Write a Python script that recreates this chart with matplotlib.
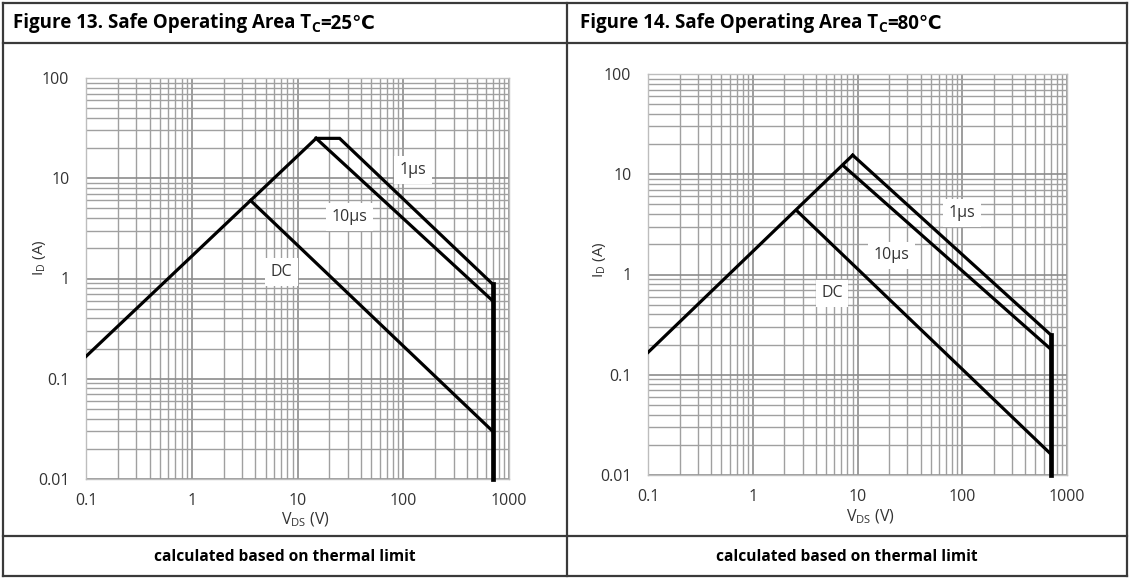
import matplotlib
matplotlib.use('Agg')
import matplotlib.pyplot as plt
from matplotlib.lines import Line2D
from matplotlib.text import Annotation
from matplotlib.ticker import FixedLocator, LogLocator, NullFormatter

plt.rcParams['font.family'] = ['Open Sans', 'DejaVu Sans']
plt.rcParams['mathtext.fontset'] = 'custom'
plt.rcParams['mathtext.rm'] = 'Open Sans'

W, H = 1129, 578

x_ticks = [0.1, 1, 10, 100, 1000]
x_tick_labels = ['0.1', '1', '10', '100', '1000']
y_ticks = [0.01, 0.1, 1, 10, 100]
y_tick_labels = ['0.01', '0.1', '1', '10', '100']

# Tc = 25 C
t25_rds_v = [0.1, 15]
t25_rds_i = [0.167, 25]
t25_1us_v = [15, 25, 700]
t25_1us_i = [25, 25, 0.88]
t25_10us_v = [15, 700]
t25_10us_i = [25, 0.6]
t25_dc_v = [3.6, 700]
t25_dc_i = [6.0, 0.03]
t25_vmax_v = [700, 700]
t25_vmax_i = [0.88, 0.01]

# Tc = 80 C
t80_rds_v = [0.1, 9]
t80_rds_i = [0.167, 15.5]
t80_1us_v = [9, 700]
t80_1us_i = [15.5, 0.25]
t80_10us_v = [7.3, 700]
t80_10us_i = [12.2, 0.18]
t80_dc_v = [2.65, 700]
t80_dc_i = [4.3, 0.0162]
t80_vmax_v = [700, 700]
t80_vmax_i = [0.25, 0.01]

curve_names = ['1µs', '10µs', 'DC']
t25_label_v = [124, 31, 7.1]
t25_label_i = [12.1, 4.1, 1.16]
t80_label_v = [100, 21, 5.7]
t80_label_i = [4.1, 1.56, 0.65]


def px(x, y):
    return x / W, 1 - y / H


fig = plt.figure(figsize=(W / 100, H / 100), dpi=100)

# table frame
frame_kw = dict(color='#3a3a3a', lw=1.6)
for (x0, y0), (x1, y1) in [((3, 3), (1127, 3)), ((3, 576), (1127, 576)),
                           ((3, 3), (3, 576)), ((1127, 3), (1127, 576)),
                           ((567, 3), (567, 576)), ((3, 43), (1127, 43)),
                           ((3, 536), (1127, 536))]:
    a, b = px(x0, y0)
    c, d = px(x1, y1)
    fig.add_artist(Line2D([a, c], [b, d], transform=fig.transFigure, **frame_kw))


def title(x, num, temp):
    t1 = fig.text(*px(x, 23), f'Figure {num}. Safe Operating Area T',
                  fontsize=13.5, fontweight='bold', va='center', ha='left')
    t2 = Annotation('C', xy=(1.0, -0.1), xycoords=t1, fontsize=10,
                    fontweight='bold', va='bottom', ha='left')
    fig.add_artist(t2)
    t3 = Annotation(f'={temp}℃', xy=(1.0, 0.1), xycoords=t2, fontsize=13.5,
                    fontweight='bold', va='bottom', ha='left')
    fig.add_artist(t3)


def panel(rect, data, labels, ylab_pos, xlab_pos):
    l, r, t, b = rect
    ax = fig.add_axes([l / W, 1 - b / H, (r - l) / W, (b - t) / H])
    ax.set_xscale('log')
    ax.set_yscale('log')
    ax.set_xlim(0.1, 1000)
    ax.set_ylim(0.01, 100)
    ax.xaxis.set_major_locator(FixedLocator(x_ticks))
    ax.set_xticklabels(x_tick_labels)
    ax.yaxis.set_major_locator(FixedLocator(y_ticks))
    ax.set_yticklabels(y_tick_labels)
    ax.xaxis.set_minor_locator(LogLocator(base=10, subs=range(2, 10), numticks=20))
    ax.yaxis.set_minor_locator(LogLocator(base=10, subs=range(2, 10), numticks=20))
    ax.xaxis.set_minor_formatter(NullFormatter())
    ax.yaxis.set_minor_formatter(NullFormatter())
    ax.tick_params(which='both', length=0, labelsize=11.5, colors='#333333')
    ax.tick_params(axis='y', pad=12)
    ax.tick_params(axis='x', pad=10)
    ax.grid(True, which='major', color='#8c8c8c', lw=1.2)
    ax.grid(True, which='minor', color='#a0a0a0', lw=1.0)
    for s in ax.spines.values():
        s.set_color('#bdbdbd')
        s.set_linewidth(1.0)

    (rv, ri), (v1, i1), (v10, i10), (vdc, idc), (vm, im) = data
    for v, i in [(rv, ri), (v1, i1), (v10, i10), (vdc, idc)]:
        ax.plot(v, i, color='black', lw=2.3, solid_joinstyle='miter', zorder=3)
    ax.plot(vm, im, color='black', lw=3.4, zorder=3, clip_on=False)

    for name, lv, li in zip(curve_names, *labels):
        ax.text(lv, li, name, fontsize=11.5, color='#333333', ha='center', va='center',
                bbox=dict(boxstyle='square,pad=0.35', fc='white', ec='none'), zorder=2)

    fig.text(*px(*ylab_pos), r'I$_\mathrm{D}$ (A)', rotation=90, fontsize=11,
             color='#333333', ha='center', va='center')
    fig.text(*px(*xlab_pos), r'V$_\mathrm{DS}$ (V)', fontsize=11.5,
             color='#333333', ha='center', va='center')
    return ax


title(13, 13, 25)
title(580, 14, 80)

panel((86, 509, 78, 479),
      [(t25_rds_v, t25_rds_i), (t25_1us_v, t25_1us_i), (t25_10us_v, t25_10us_i),
       (t25_dc_v, t25_dc_i), (t25_vmax_v, t25_vmax_i)],
      (t25_label_v, t25_label_i), (40, 258), (305, 520))
panel((648, 1067, 74, 475),
      [(t80_rds_v, t80_rds_i), (t80_1us_v, t80_1us_i), (t80_10us_v, t80_10us_i),
       (t80_dc_v, t80_dc_i), (t80_vmax_v, t80_vmax_i)],
      (t80_label_v, t80_label_i), (600, 260), (870, 517))

for cx in (285, 847):
    fig.text(*px(cx, 557), 'calculated based on thermal limit', fontsize=11.2,
             fontweight='bold', ha='center', va='center')

fig.savefig('out.png', dpi=100)
